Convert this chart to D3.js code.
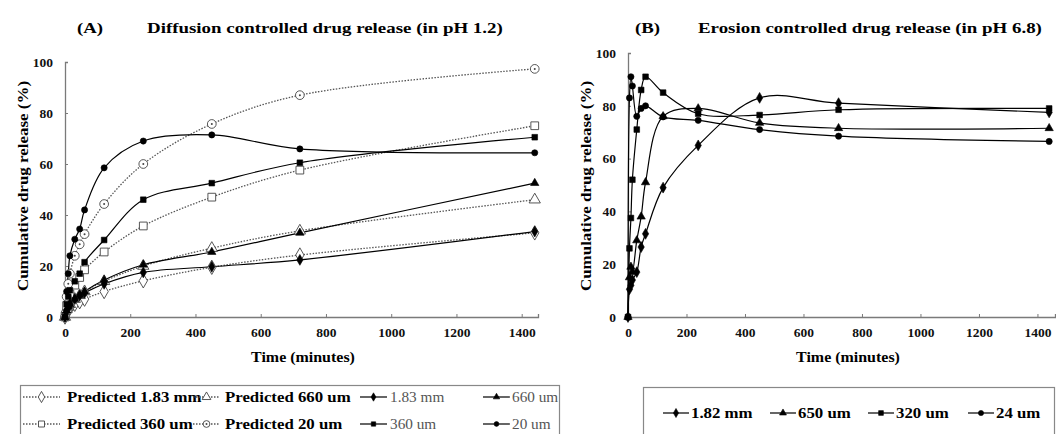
<!DOCTYPE html>
<html>
<head>
<meta charset="utf-8">
<script src="https://cdn.jsdelivr.net/npm/d3@7"></script>
<style>
  body { margin: 0; background: #fff; }
  svg { display: block; font-family: "Liberation Serif", "Times New Roman", serif; }
</style>
</head>
<body>
<svg id="chart" width="1056" height="434"></svg>
<script>
// time points (minutes)
var times = [0, 5, 10, 15, 30, 45, 60, 120, 240, 450, 720, 1440];
var yTicks = [0, 20, 40, 60, 80, 100];
var xTicks = [0, 200, 400, 600, 800, 1000, 1200, 1400];

// (A) diffusion, pH 1.2 - observed
var obs183mm = [0, 2.5, 4, 5, 7, 8.5, 9.5, 13, 17.5, 19.7, 22.4, 33.5];
var obs660um = [0, 2.5, 4, 5, 7, 8.5, 10, 14.5, 20.5, 25.5, 33, 52.5];
var obs360um = [0, 5, 8, 10.5, 14, 17, 21.5, 30.2, 46, 52.5, 60.5, 70.5];
var obs20um = [0, 10, 17, 24, 30.5, 34.5, 42, 58.5, 69, 71.4, 65.9, 64.4];
// (A) predicted
var pred183mm = [0, 2, 3, 3.5, 5, 6, 7, 10, 14.2, 19.5, 24.3, 33];
var pred660um = [0, 3, 4, 5, 7, 8.5, 10, 14, 20, 27, 33.8, 46];
var pred360um = [0, 4.5, 7, 9, 12.5, 15.5, 18.5, 25.5, 35.7, 47, 57.6, 75];
var pred20um = [0, 8, 13, 17, 24, 28.5, 32.5, 44.3, 60, 75.7, 87, 97.3];

// (B) erosion, pH 6.8
var ero182mm = [0, 10.5, 12, 14, 17, 26.5, 31.5, 49, 65, 83, 81, 77.5];
var ero650um = [0, 15, 19, 17, 29, 38, 51, 76, 79, 73.5, 71.5, 71.5];
var ero320um = [0, 26, 37.5, 52, 71, 86, 91, 85, 77, 76.5, 78.5, 79];
var ero24um = [0, 83, 91, 87.5, 76, 79, 80, 75.8, 74.5, 71, 68.5, 66.5];

var seriesA = [
    { name: "Predicted 1.83 mm", values: pred183mm, shape: "diamond", open: true },
    { name: "Predicted 660 um", values: pred660um, shape: "triangle", open: true },
    { name: "Predicted 360 um", values: pred360um, shape: "square", open: true },
    { name: "Predicted 20 um", values: pred20um, shape: "circle", open: true },
    { name: "1.83 mm", values: obs183mm, shape: "diamond", open: false },
    { name: "660 um", values: obs660um, shape: "triangle", open: false },
    { name: "360 um", values: obs360um, shape: "square", open: false },
    { name: "20 um", values: obs20um, shape: "circle", open: false }
];
var legendOrderA = [
    ["Predicted 1.83 mm", "Predicted 660 um", "1.83 mm", "660 um"],
    ["Predicted 360 um", "Predicted 20 um", "360 um", "20 um"]
];
var seriesB = [
    { name: "1.82 mm", values: ero182mm, shape: "diamond", open: false },
    { name: "650 um", values: ero650um, shape: "triangle", open: false },
    { name: "320 um", values: ero320um, shape: "square", open: false },
    { name: "24 um", values: ero24um, shape: "circle", open: false }
];

var svg = d3.select("#chart");
var axisColor = "#7a7a7a";

var symbols = {
    diamond: d3.symbolDiamond,
    triangle: d3.symbolTriangle,
    square: d3.symbolSquare,
    circle: d3.symbolCircle
};
var symSize = { diamond: 34, triangle: 30, square: 32, circle: 30 };
var openSize = { diamond: 60, triangle: 55, square: 60, circle: 60 };

// the scanned original has slightly wide lettering
function stretch(sel, f) {
    sel.each(function() {
        var len = this.getComputedTextLength();
        d3.select(this).attr("textLength", len * f).attr("lengthAdjust", "spacingAndGlyphs");
    });
    return sel;
}

function drawMarker(g, s, cx, cy, k) {
    k = k || 1;
    var size = (s.open ? openSize[s.shape] : symSize[s.shape]) * k;
    g.append("path")
        .attr("transform", "translate(" + cx + "," + cy + ")")
        .attr("d", d3.symbol().type(symbols[s.shape]).size(size)())
        .attr("fill", s.open ? "#fff" : "#000")
        .attr("stroke", s.open ? "#444" : "#000")
        .attr("stroke-width", s.open ? 0.9 : 0.6);
    if (s.open && s.shape == "circle") {
        g.append("circle").attr("cx", cx).attr("cy", cy).attr("r", 1).attr("fill", "#444");
    }
}

function panel(cfg) {
    var x = d3.scaleLinear().domain([0, cfg.xMax]).range(cfg.xRange);
    var y = d3.scaleLinear().domain([0, 100]).range(cfg.yRange);
    var g = svg.append("g");

    // axes (ticks inside, like the original)
    var xAxis = g.append("g")
        .attr("transform", "translate(0," + cfg.yRange[0] + ")")
        .call(d3.axisBottom(x).tickValues(xTicks).tickFormat(d3.format("d")).tickSize(-3).tickPadding(10));
    var yAxis = g.append("g")
        .attr("transform", "translate(" + cfg.xRange[0] + ",0)")
        .call(d3.axisLeft(y).tickValues(yTicks).tickSize(-3).tickPadding(12));
    [xAxis, yAxis].forEach(function(a) {
        a.select(".domain").attr("stroke", axisColor).attr("stroke-width", 1.3);
        a.selectAll(".tick line").attr("stroke", axisColor);
        a.selectAll(".tick text")
            .attr("font-family", "Liberation Serif")
            .attr("font-weight", "bold")
            .attr("font-size", "13.5px")
            .attr("fill", "#111");
    });

    // titles
    stretch(g.append("text")
        .attr("x", cfg.tagX).attr("y", 33)
        .attr("font-weight", "bold").attr("font-size", "15px")
        .text(cfg.tag), 1.25);
    stretch(g.append("text")
        .attr("x", cfg.titleX).attr("y", 33)
        .attr("font-weight", "bold").attr("font-size", "15px")
        .text(cfg.title), 1.26);
    stretch(g.append("text")
        .attr("x", cfg.timeX).attr("y", 362)
        .attr("text-anchor", "middle")
        .attr("font-weight", "bold").attr("font-size", "14px")
        .text("Time (minutes)"), 1.14);
    stretch(g.append("text")
        .attr("transform", "translate(" + cfg.yLabelX + ",186) rotate(-90)")
        .attr("text-anchor", "middle")
        .attr("font-weight", "bold").attr("font-size", "15px")
        .text("Cumulative drug release (%)"), 1.13);

    var line = d3.line()
        .x(function(d, i) { return x(times[i]); })
        .y(function(d) { return y(d); })
        .curve(d3.curveCatmullRom.alpha(0.5));

    cfg.series.forEach(function(s) {
        g.append("path")
            .attr("d", line(s.values))
            .attr("fill", "none")
            .attr("stroke", s.open ? "#555" : "#000")
            .attr("stroke-width", s.open ? 1.3 : 1.2)
            .attr("stroke-dasharray", s.open ? "1.5,1.5" : null);
    });
    cfg.series.forEach(function(s) {
        var mg = g.append("g");
        s.values.forEach(function(v, i) {
            drawMarker(mg, s, x(times[i]), y(v));
        });
    });
    return g;
}

panel({
    xMax: 1450, xRange: [65, 538], yRange: [317, 62],
    series: seriesA,
    tag: "(A)", tagX: 77,
    title: "Diffusion controlled drug release (in pH 1.2)", titleX: 147,
    timeX: 303, yLabelX: 28
});
panel({
    xMax: 1460, xRange: [628, 1055], yRange: [317, 53],
    series: seriesB,
    tag: "(B)", tagX: 635,
    title: "Erosion controlled drug release (in pH 6.8)", titleX: 698,
    timeX: 848, yLabelX: 591
});

// legend A
var legA = svg.append("g");
legA.append("rect")
    .attr("x", 20.5).attr("y", 385.5).attr("width", 539).attr("height", 60)
    .attr("fill", "none").attr("stroke", "#888").attr("stroke-width", 1.2);
var colA = [
    { x0: 23, x1: 60, text: 67 },
    { x0: 193, x1: 220, text: 225 },
    { x0: 360, x1: 387, text: 390 },
    { x0: 483, x1: 510, text: 512 }
];
var rowY = [397, 424];
legendOrderA.forEach(function(row, r) {
    row.forEach(function(name, c) {
        var s = seriesA.find(function(d) { return d.name == name; });
        var col = colA[c], cy = rowY[r];
        legA.append("line")
            .attr("x1", col.x0).attr("x2", col.x1).attr("y1", cy).attr("y2", cy)
            .attr("stroke", s.open ? "#555" : "#000")
            .attr("stroke-width", s.open ? 1.3 : 1.2)
            .attr("stroke-dasharray", s.open ? "1.5,1.5" : null);
        drawMarker(legA, s, (col.x0 + col.x1) / 2, cy, 0.6);
        stretch(legA.append("text")
            .attr("x", col.text).attr("y", cy + 4.5)
            .attr("font-size", "14px")
            .attr("font-weight", s.open ? "bold" : "normal")
            .attr("fill", s.open ? "#000" : "#555")
            .text(name), s.open ? 1.2 : 1.09);
    });
});

// legend B
var legB = svg.append("g");
legB.append("rect")
    .attr("x", 643.5).attr("y", 387.5).attr("width", 411).attr("height", 60)
    .attr("fill", "none").attr("stroke", "#888").attr("stroke-width", 1.2);
var colB = [663, 770, 868, 968];
seriesB.forEach(function(s, i) {
    var x0 = colB[i], cy = 413;
    legB.append("line")
        .attr("x1", x0).attr("x2", x0 + 26).attr("y1", cy).attr("y2", cy)
        .attr("stroke", "#000").attr("stroke-width", 1.2);
    drawMarker(legB, s, x0 + 13, cy, 0.7);
    stretch(legB.append("text")
        .attr("x", x0 + 28).attr("y", cy + 4.5)
        .attr("font-size", "14px").attr("font-weight", "bold")
        .text(s.name), 1.2);
});
</script>
</body>
</html>
